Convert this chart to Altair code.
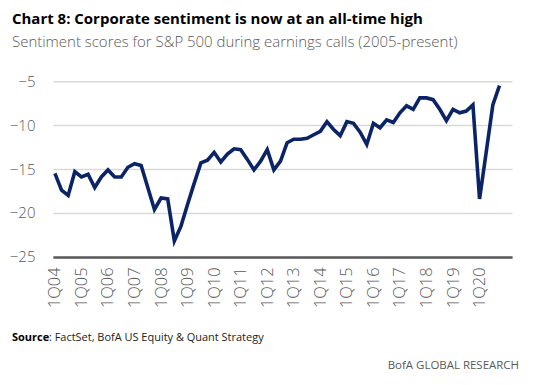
import altair as alt
import pandas as pd

quarters = [f"{q}Q{y:02d}" for y in range(4, 21) for q in range(1, 5)]
values = [
    -15.5, -17.4, -18.0, -15.3, -15.9, -15.6, -17.1, -15.9,
    -15.1, -15.9, -15.9, -14.8, -14.4, -14.6, -17.1, -19.6,
    -18.3, -18.4, -23.2, -21.5, -19.0, -16.6, -14.3, -14.0,
    -13.1, -14.2, -13.3, -12.7, -12.8, -13.9, -15.1, -14.1,
    -12.8, -15.1, -14.1, -12.0, -11.6, -11.6, -11.5, -11.1,
    -10.7, -9.6, -10.5, -11.2, -9.6, -9.8, -10.8, -12.2,
    -9.8, -10.3, -9.4, -9.7, -8.6, -7.8, -8.2, -6.9,
    -6.9, -7.1, -8.2, -9.5, -8.2, -8.6, -8.4, -7.7,
    -18.4, -13.1, -7.7, -5.5,
]
tick_labels = [q for q in quarters if q.startswith("1Q")]

df = pd.DataFrame({"idx": range(len(values)), "quarter": quarters[:len(values)], "score": values})

label_arr = "[" + ",".join(f"'{t}'" for t in tick_labels) + "]"
FONT = "Open Sans"
GREY = "#595959"

line = alt.Chart(df).mark_line(color="#0b2468", strokeWidth=3.6, strokeJoin="miter").encode(
    x=alt.X("idx:Q", scale=alt.Scale(domain=[-0.3, 68.9], nice=False, zero=False),
            axis=alt.Axis(values=list(range(0, 65, 4)), labelExpr=f"{label_arr}[datum.value/4]",
                          title=None, grid=False, ticks=False, labelAngle=270, labelAlign="right",
                          labelBaseline="middle", labelPadding=10, labelFontSize=16.5, labelColor=GREY,
                          labelFont=FONT, labelFontWeight=300, domainColor=GREY, domainWidth=2.5)),
    y=alt.Y("score:Q", scale=alt.Scale(domain=[-25, -5], nice=False, zero=False),
            axis=alt.Axis(values=[-5, -10, -15, -20, -25], title=None, ticks=False, domain=False,
                          gridColor="#d9d9d9", gridWidth=1.5, labelFontSize=15, labelColor=GREY,
                          labelFont=FONT, labelFontWeight=300, labelPadding=18)),
)

notes = pd.DataFrame({"a": [0]})
src_bold = alt.Chart(notes).mark_text(text="Source", font=FONT, fontSize=11, fontWeight="bold",
                                      align="left", baseline="middle", color="#000000").encode(
    x=alt.value(-41), y=alt.value(257))
src_rest = alt.Chart(notes).mark_text(text=": FactSet, BofA US Equity & Quant Strategy", font=FONT,
                                      fontSize=11, align="left", baseline="middle", color="#222222").encode(
    x=alt.value(-4), y=alt.value(257))
bofa = alt.Chart(notes).mark_text(text="BofA GLOBAL RESEARCH", font=FONT, fontSize=11.5, align="right",
                                  baseline="middle", color=GREY).encode(
    x=alt.value(467), y=alt.value(285))

chart = alt.layer(line, src_bold, src_rest, bofa).properties(
    width=460, height=176,
    autosize=alt.AutoSizeParams(type="none"),
    padding={"left": 45, "top": 73, "right": 40, "bottom": 120},
    title=alt.TitleParams(
        text="Chart 8: Corporate sentiment is now at an all-time high",
        subtitle="Sentiment scores for S&P 500 during earnings calls (2005-present)",
        anchor="start", frame="group", dx=-41, offset=24,
        font=FONT, fontSize=15, fontWeight="bold", color="#000000",
        subtitleFont=FONT, subtitleFontSize=15, subtitleColor=GREY, subtitleFontWeight=300,
        subtitlePadding=8,
    ),
).configure_view(stroke=None)

chart.save("out.html", embed_options={"renderer": "svg", "actions": False})
